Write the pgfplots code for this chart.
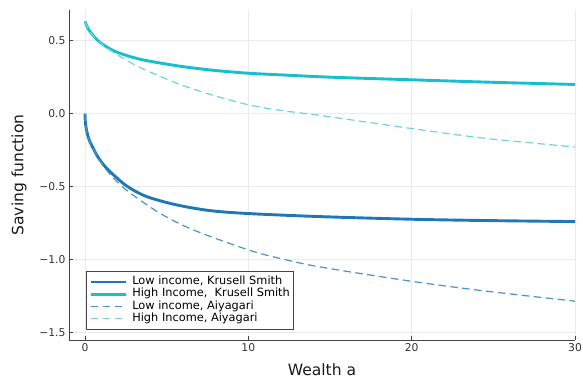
\documentclass[border=0pt]{standalone}
\usepackage{fontspec}
\setmainfont{DejaVu Sans}
\usepackage{pgfplots}
\pgfplotsset{compat=1.18}
\definecolor{c1}{HTML}{1F77B4}
\definecolor{c2}{HTML}{17BECF}
\definecolor{c3}{HTML}{4A93C8}
\definecolor{c4}{HTML}{6DD3DF}
\definecolor{spine}{HTML}{444444}
\begin{document}
\begin{tikzpicture}
\path[use as bounding box] (-69bp,-38bp) rectangle (514bp,340bp);
\begin{axis}[
  scale only axis, width=506bp, height=330bp,
  xmin=-0.98, xmax=30, ymin=-1.55, ymax=0.71,
  axis lines*=left,
  axis line style={spine, line width=0.8bp},
  xtick={0,10,20,30}, xticklabels={0,10,20,30},
  ytick={-1.5,-1,-0.5,0,0.5}, yticklabels={−1.5,−1.0,−0.5,0.0,0.5},
  tick align=inside, major tick length=4bp,
  tick style={spine, line width=0.8bp},
  grid=major, grid style={black!8, line width=0.5bp},
  ticklabel style={font=\fontsize{10.8}{12}\selectfont, text=black!80},
  xlabel={Wealth a}, ylabel={Saving function},
  label style={font=\fontsize{15.6}{18}\selectfont, text=black!90},
  xlabel shift=5bp, ylabel shift=6bp,
  legend style={at={(rel axis cs:0.0336,0.0303)}, anchor=south west,
    draw=spine, line width=0.8bp, fill=white,
    font=\fontsize{11.4}{12}\selectfont,
    inner xsep=3bp, inner ysep=5bp, row sep=0pt,
    nodes={inner sep=1bp, text height=0.78em, text depth=0.24em},
    cells={anchor=west},
    /tikz/every odd column/.append style={column sep=4bp}},
  legend image code/.code={\draw[#1] (0bp,0bp) -- (35bp,0bp);},
]
\addplot[c1, line width=2.9bp, smooth, tension=0.5] coordinates {
(0,0) (0.02,-0.057) (0.05,-0.085) (0.15,-0.140) (0.31,-0.194) (0.72,-0.283) (1.1,-0.345) (1.53,-0.397)
(2.55,-0.495) (3.78,-0.568) (5.62,-0.625) (7.66,-0.664) (10,-0.684)
(14.4,-0.705) (20,-0.723) (24.6,-0.732) (30,-0.739)};
\addlegendentry{Low income, Krusell Smith}
\addplot[c2, line width=2.9bp, smooth, tension=0.5] coordinates {
(0,0.632) (0.2,0.58) (0.51,0.534) (0.92,0.488) (1.73,0.432) (2.76,0.391)
(3.78,0.363) (5.82,0.325) (7.86,0.297) (10,0.277) (11.94,0.266) (15,0.25)
(20,0.232) (24.6,0.216) (30,0.200)};
\addlegendentry{High Income,~ Krusell Smith}
\addplot[c3, line width=1.2bp, dash pattern=on 7.5bp off 4.5bp, smooth, tension=0.5] coordinates {
(0,0) (0.02,-0.057) (0.05,-0.085) (0.15,-0.140) (0.31,-0.196) (0.51,-0.240) (1.0,-0.335)
(1.53,-0.415) (2.55,-0.525) (4.59,-0.682) (6.63,-0.796) (10,-0.933)
(11.9,-0.99) (14.4,-1.05) (20,-1.148) (24.6,-1.216) (30,-1.284)};
\addlegendentry{Low income, Aiyagari}
\addplot[c4, line width=1.2bp, dash pattern=on 7.5bp off 4.5bp, smooth, tension=0.5] coordinates {
(0,0.632) (0.2,0.58) (0.51,0.532) (1.02,0.477) (1.73,0.42) (2.76,0.352)
(3.78,0.295) (5.82,0.20) (7.86,0.125) (10,0.061) (11.94,0.023) (14.4,-0.012)
(20,-0.102) (24.6,-0.17) (30,-0.228)};
\addlegendentry{High Income, Aiyagari}
\end{axis}
\end{tikzpicture}
\end{document}
